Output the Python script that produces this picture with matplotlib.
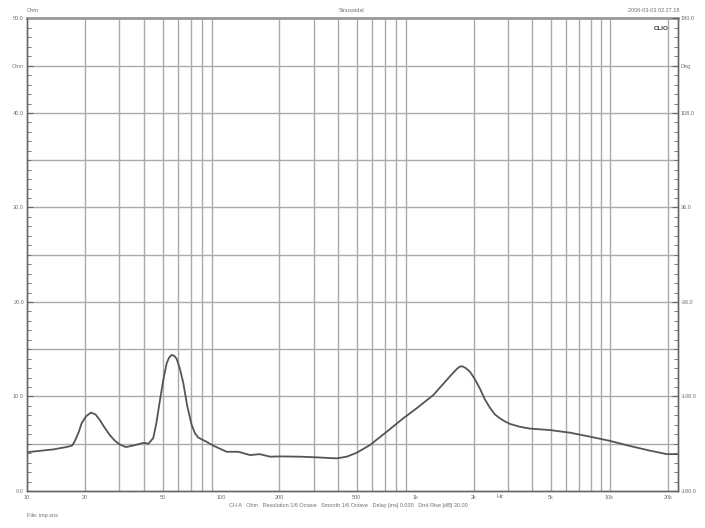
import numpy as np
import matplotlib
matplotlib.use("Agg")
import matplotlib.pyplot as plt
from matplotlib.ticker import FixedLocator, NullFormatter

plt.rcParams['font.family'] = ['Liberation Sans', 'DejaVu Sans']

# impedance curve
freq = [10, 13.7, 16.0, 17.1, 17.6, 18.5, 19.2, 20.2, 21.4, 22.6, 23.8, 25.0,
        26.8, 28.5, 30.2, 32.4, 36.1, 40, 42.3, 44.8, 46.5, 48.5, 50.5, 52.5,
        54.0, 55.7, 57.4, 59.1, 61.5, 64, 67, 70.6, 73.5, 76.4, 84.4, 91.2, 107,
        123, 141, 158, 179, 200, 255, 311, 394, 444, 500, 585, 713, 868, 1016,
        1238, 1452, 1550, 1634, 1690, 1747, 1820, 1914, 2030, 2155, 2280, 2424,
        2570, 2720, 2900, 3070, 3450, 3890, 4920, 6250, 7920, 10050, 12730,
        16130, 19680, 22400]
ohm = [4.1, 4.4, 4.65, 4.8, 5.2, 6.2, 7.2, 7.9, 8.3, 8.1, 7.5, 6.8,
       5.9, 5.3, 4.9, 4.65, 4.85, 5.1, 5.0, 5.6, 7.2, 9.6, 11.8, 13.5,
       14.1, 14.4, 14.3, 14.0, 12.9, 11.4, 9.0, 7.0, 6.1, 5.65, 5.2, 4.8, 4.15,
       4.15, 3.8, 3.9, 3.63, 3.66, 3.63, 3.56, 3.45, 3.63, 4.05, 4.87, 6.27, 7.7, 8.75,
       10.15, 11.75, 12.4, 12.9, 13.15, 13.2, 13.0, 12.6, 11.8, 10.8, 9.7, 8.8,
       8.1, 7.7, 7.35, 7.1, 6.8, 6.6, 6.45, 6.17, 5.75, 5.3, 4.76,
       4.27, 3.9, 3.9]

xticks = [10, 20, 50, 100, 200, 500, 1000, 2000, 5000, 10000, 20000]
xlabels = ['10', '20', '50', '100', '200', '500', '1k', '2k', '5k', '10k', '20k']
yticks = [0, 10, 20, 30, 40, 45, 50]
ylabels = ['0.0', '10.0', '20.0', '30.0', '40.0', 'Ohm', '50.0']
rticks = [-180, -108, -36, 36, 108, 144, 180]
rlabels = ['-180.0', '-108.0', '-36.0', '36.0', '108.0', 'Deg', '180.0']

txt_col = '#707070'
grid_col = '#aaaaaa'
fs = 4

fig = plt.figure(figsize=(7.05, 5.28), dpi=100)
ax = fig.add_axes([0.0379, 0.0701, 0.9238, 0.8949])

ax.set_xscale('log')
ax.set_xlim(10, 22500)
ax.set_ylim(0, 50)

# grid
vgrid = [d * m for m in (10, 100, 1000) for d in range(2, 10)] + [10000, 20000]
for v in vgrid:
    ax.axvline(v, color=grid_col, lw=1.0, zorder=1)
for h in range(5, 50, 5):
    ax.axhline(h, color=grid_col, lw=1.0, zorder=1)

ax.plot(freq, ohm, color='#555555', lw=1.3, zorder=3)

ax.xaxis.set_major_locator(FixedLocator(xticks))
ax.xaxis.set_minor_locator(FixedLocator([]))
ax.set_xticklabels(xlabels)
ax.xaxis.set_minor_formatter(NullFormatter())
ax.tick_params(axis='x', length=0, labelsize=fs, labelcolor=txt_col, pad=3)

ax.yaxis.set_major_locator(FixedLocator(yticks))
ax.set_yticklabels(ylabels)
ax.yaxis.set_minor_locator(FixedLocator(np.arange(0, 51, 1)))
ax.tick_params(axis='y', which='both', direction='in', labelsize=fs,
               labelcolor=txt_col, color='#666666', pad=2)
ax.tick_params(axis='y', which='major', length=4)
ax.tick_params(axis='y', which='minor', length=3)

ax2 = ax.twinx()
ax2.set_ylim(-180, 180)
ax2.yaxis.set_major_locator(FixedLocator(rticks))
ax2.set_yticklabels(rlabels)
ax2.yaxis.set_minor_locator(FixedLocator(np.arange(-180, 181, 7.2)))
ax2.tick_params(axis='y', which='both', direction='in', labelsize=fs,
                labelcolor=txt_col, color='#666666', pad=2)
ax2.tick_params(axis='y', which='major', length=4)
ax2.tick_params(axis='y', which='minor', length=3)

for a in (ax, ax2):
    for s in a.spines.values():
        s.set_color('#666666')
        s.set_linewidth(1.0)
ax.spines['top'].set_color('#999999')
ax.spines['top'].set_linewidth(2.0)
ax2.spines['top'].set_visible(False)

# header / footer texts
fig.text(27 / 705, 1 - 10 / 528, 'Ohm', fontsize=fs, color=txt_col, va='center', ha='left')
fig.text(352 / 705, 1 - 10 / 528, 'Sinusoidal', fontsize=fs, color=txt_col, va='center', ha='center')
fig.text(679 / 705, 1 - 10 / 528, '2006-03-03 02.27.18', fontsize=fs, color=txt_col,
         va='center', ha='right')
ax.text(0.985, 0.985, 'CLIO', transform=ax.transAxes, fontsize=fs + 0.5,
        fontweight='bold', color='#333333', ha='right', va='top')
fig.text(500 / 705, 1 - 497 / 528, 'Hz', fontsize=fs, color=txt_col, va='center', ha='center')
fig.text(348 / 705, 1 - 506 / 528,
         'CH A   Ohm   Resolution 1/6 Octave   Smooth 1/6 Octave   Delay [ms] 0.000   Dnd Rise [dB] 30.00',
         fontsize=fs, color=txt_col, va='center', ha='center')
fig.text(27 / 705, 1 - 516 / 528, 'File: imp.sns', fontsize=fs, color=txt_col, va='center', ha='left')

fig.savefig('out.png', dpi=100, facecolor='white')
